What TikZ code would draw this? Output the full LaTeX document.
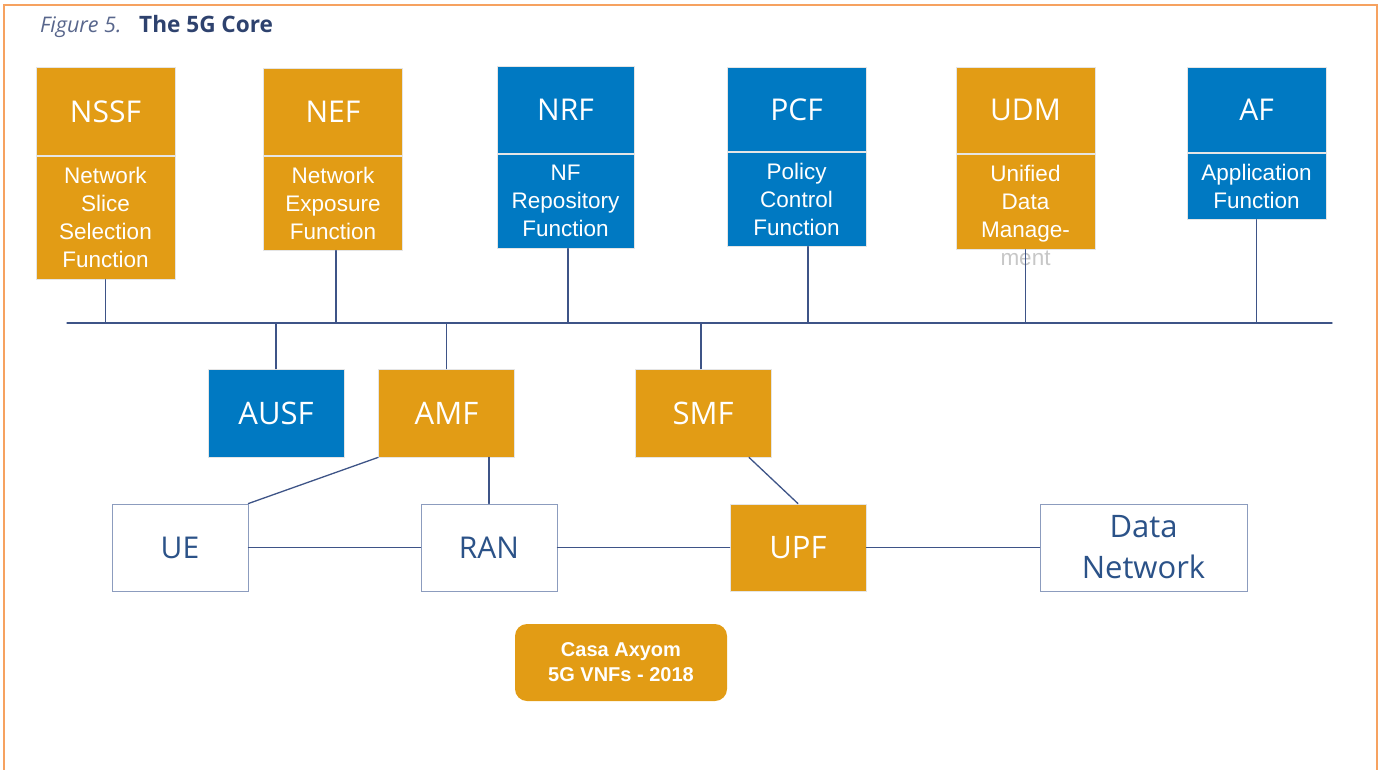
\documentclass[tikz,border=0pt]{standalone}
\usepackage{fontspec}
\setmainfont{Open Sans}
\newfontfamily\arialfont{Liberation Sans}
\usetikzlibrary{positioning}

\definecolor{nforange}{RGB}{226,156,21}
\definecolor{nfblue}{RGB}{0,121,194}
\definecolor{linkblue}{RGB}{62,84,135}
\definecolor{boxedge}{RGB}{140,156,190}
\definecolor{labelblue}{RGB}{43,82,136}
\definecolor{frameorange}{RGB}{246,162,96}
\definecolor{titleblue}{RGB}{46,66,110}
\definecolor{figblue}{RGB}{88,102,140}

\tikzset{
    nfhead/.style = {draw = black!10, line width = 0.8pt, text = white,
        minimum width = 139pt, minimum height = 87pt, inner sep = 0pt,
        anchor = north, font = \fontsize{30}{34}\selectfont},
    nfbody/.style = {draw = black!10, line width = 0.8pt, text = white,
        minimum width = 139pt, minimum height = 94pt, inner sep = 0pt,
        anchor = north, align = center,
        font = \arialfont\fontsize{22.5}{28}\selectfont},
    nfbox/.style = {draw = black!10, line width = 0.8pt, text = white,
        minimum width = 136pt, minimum height = 88pt, inner sep = 0pt,
        font = \fontsize{31}{35}\selectfont},
    endbox/.style = {draw = boxedge, line width = 1pt, fill = white,
        text = labelblue, minimum width = 136pt, minimum height = 87pt,
        inner sep = 0pt, align = center,
        font = \fontsize{30}{41}\selectfont},
    link/.style = {draw = linkblue, line width = 1.3pt},
    frame/.style = {draw = frameorange, line width = 1.6pt}
}

\begin{document}
\begin{tikzpicture}[x = 1pt, y = -1pt, line cap = round]
        \useasboundingbox (0, 0) rectangle (1381, 770);

        % Page frame, open at the bottom.
        \draw[frame] (4, 770) -- (4, 5) -- (1377, 5) -- (1377, 770);

        % Caption.
        \node[anchor = base west, text = figblue, inner sep = 0pt,
            font = \itshape\fontsize{21.5}{26}\selectfont] (fig) at (40, 33) {Figure 5.};
        \node[anchor = base west, text = titleblue, inner sep = 0pt,
            font = \bfseries\fontsize{22.6}{27}\selectfont] (title) at (139, 33) {The 5G Core};

        % Network functions on the service bus.
        \node[nfhead, fill = nforange, minimum height = 88pt] (nssf-h) at (105.5, 67) {NSSF};
        \node[nfbody, fill = nforange, minimum height = 123pt] (nssf-b) at (nssf-h.south)
            {Network\\Slice\\Selection\\Function};

        \node[nfhead, fill = nforange] (nef-h) at (333, 68) {NEF};
        \node[nfbody, fill = nforange] (nef-b) at (nef-h.south)
            {Network\\Exposure\\Function};

        \node[nfhead, fill = nfblue, minimum width = 137pt] (nrf-h) at (565.5, 66) {NRF};
        \node[nfbody, fill = nfblue, minimum width = 137pt] (nrf-b) at (nrf-h.south)
            {NF\\Repository\\Function};

        \node[nfhead, fill = nfblue, minimum height = 84pt] (pcf-h) at (796.5, 67) {PCF};
        \node[nfbody, fill = nfblue] (pcf-b) at (pcf-h.south)
            {Policy\\Control\\Function};

        \node[nfhead, fill = nforange, minimum height = 86pt] (udm-h) at (1025.5, 67) {UDM};
        \node[nfbody, fill = nforange, minimum height = 95pt] (udm-b) at (udm-h.south) {};
        \node[text = white, align = center, inner sep = 0pt,
            font = \arialfont\fontsize{22.5}{28}\selectfont] (udm-t) at (1025.5, 215)
            {Unified\\Data\\Manage-\\\textcolor{black!22}{ment}};

        \node[nfhead, fill = nfblue, minimum height = 85pt] (af-h) at (1256.5, 67) {AF};
        \node[nfbody, fill = nfblue, minimum height = 66pt] (af-b) at (af-h.south)
            {Application\\Function};

        % Service bus.
        \coordinate (bus-w) at (67, 323);
        \coordinate (bus-e) at (1332, 323);
        \draw[link] (bus-w) -- (bus-e);

        \draw[link] (nssf-b.south) -- (nssf-b.south |- bus-w);
        \draw[link] ([xshift = 3pt]nef-b.south) -- ([xshift = 3pt]nef-b.south |- bus-w);
        \draw[link] ([xshift = 2.5pt]nrf-b.south) -- ([xshift = 2.5pt]nrf-b.south |- bus-w);
        \draw[link] ([xshift = 11.5pt]pcf-b.south) -- ([xshift = 11.5pt]pcf-b.south |- bus-w);
        \draw[link] (udm-b.south) -- (udm-b.south |- bus-w);
        \draw[link] (af-b.south) -- (af-b.south |- bus-w);

        % Functions below the bus.
        \node[nfbox, fill = nfblue] (ausf) at (276, 413) {AUSF};
        \node[nfbox, fill = nforange] (amf) at (446.5, 413) {AMF};
        \node[nfbox, fill = nforange] (smf) at (703, 413) {SMF};

        \draw[link] (ausf.north) -- (ausf.north |- bus-w);
        \draw[link] (amf.north) -- (amf.north |- bus-w);
        \draw[link] ([xshift = -2pt]smf.north) -- ([xshift = -2pt]smf.north |- bus-w);

        % User plane.
        \node[endbox] (ue) at (180, 547.5) {UE};
        \node[endbox] (ran) at (489, 547.5) {RAN};
        \node[nfbox, fill = nforange, minimum height = 87pt] (upf) at (798, 547.5) {UPF};
        \node[endbox, minimum width = 207pt, font = \fontsize{31}{41}\selectfont]
            (dn) at (1143.5, 547.5) {Data\\Network};

        \draw[link] (amf.south west) -- (ue.north east);
        \draw[link] (ran.north |- amf.south) -- (ran.north);
        \draw[link] ([xshift = 46pt]smf.south) -- (upf.north);
        \draw[link] (ue) -- (ran);
        \draw[link] (ran) -- (upf);
        \draw[link] (upf) -- (dn);

        % Vendor tag.
        \node[fill = nforange, rounded corners = 12pt, text = white, align = center,
            minimum width = 212pt, minimum height = 77pt, inner sep = 0pt,
            font = \arialfont\bfseries\fontsize{20}{25}\selectfont]
            (casa) at (621, 662.5) {Casa Axyom\\5G VNFs - 2018};
    \end{tikzpicture}
\end{document}
